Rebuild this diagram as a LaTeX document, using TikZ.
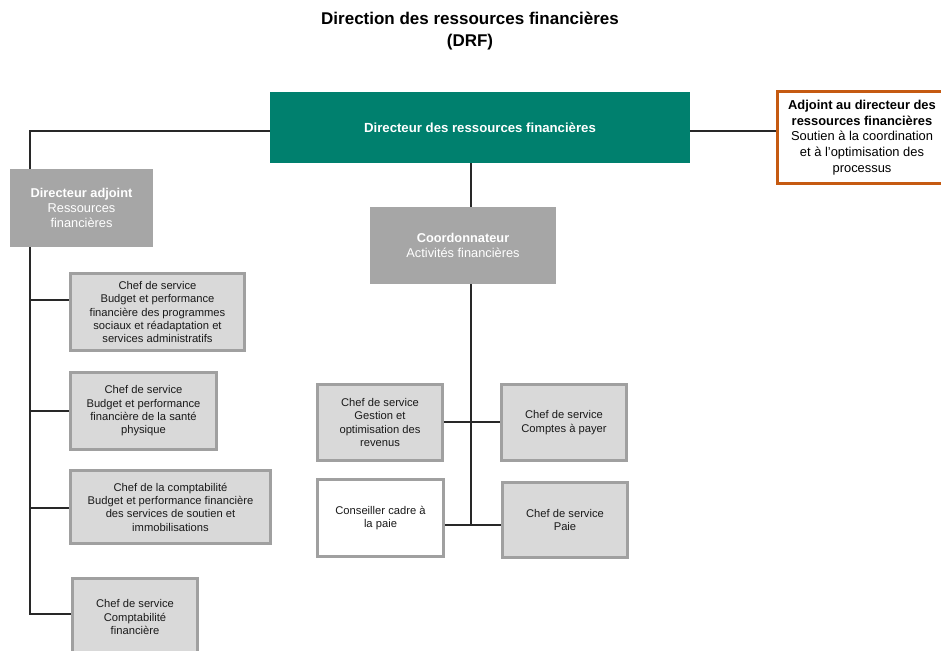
\documentclass[tikz,border=0pt]{standalone}
\usepackage{fontspec}
\setmainfont{Liberation Sans}
\definecolor{drfteal}{RGB}{0,128,110}
\definecolor{headgray}{RGB}{166,166,166}
\definecolor{unitfill}{RGB}{217,217,217}
\definecolor{unitedge}{RGB}{160,160,160}
\definecolor{staffedge}{RGB}{197,90,17}
\definecolor{linkc}{RGB}{40,40,40}
\definecolor{inkc}{RGB}{26,26,26}
\begin{document}
\begin{tikzpicture}[x=1pt,y=-1pt,
  link/.style={draw=linkc, line width=1.3pt},
  topbox/.style={fill=drfteal, text=white, inner sep=0pt, align=center,
    font=\bfseries\fontsize{13.2}{16}\selectfont},
  headbox/.style={fill=headgray, text=white, inner sep=0pt, align=center,
    font=\fontsize{12.8}{15}\selectfont},
  staffbox/.style={draw=staffedge, line width=3pt, fill=white, text=black,
    inner sep=0pt, align=center, font=\fontsize{12.9}{15.7}\selectfont},
  unitbox/.style={draw=unitedge, line width=2.6pt, fill=unitfill, text=inkc,
    inner sep=0pt, align=center, font=\fontsize{11.2}{13.3}\selectfont},
  advbox/.style={unitbox, fill=white},
  titletext/.style={inner sep=0pt, align=center, text=black,
    font=\bfseries\fontsize{17}{22}\selectfont}
]
\useasboundingbox (0,0) rectangle (941,650);
\clip (0,0) rectangle (941,650);

% title
\node[titletext] (title) at (470,31) {Direction des ressources financières\\(DRF)};

% director and staff
\node[topbox, minimum width=420pt, minimum height=71pt] (dir) at (480,127.5)
  {Directeur des ressources financières};
\node[staffbox, minimum width=170pt, minimum height=92pt] (staff) at (862,137.5)
  {\textbf{Adjoint au directeur des}\\\textbf{ressources financières}\\Soutien à la coordination\\et à l'optimisation des\\processus};

% deputy director branch
\node[headbox, minimum width=143pt, minimum height=78pt] (adj) at (81.5,208)
  {\textbf{Directeur adjoint}\\Ressources\\financières};
\node[unitbox, minimum width=174pt, minimum height=77pt] (b1) at (157.5,312)
  {Chef de service\\Budget et performance\\financière des programmes\\sociaux et réadaptation et\\services administratifs};
\node[unitbox, minimum width=146pt, minimum height=77pt] (b2) at (143.5,411)
  {Chef de service\\Budget et performance\\financière de la santé\\physique};
\node[unitbox, minimum width=200pt, minimum height=73pt] (b3) at (170.5,507)
  {Chef de la comptabilité\\Budget et performance financière\\des services de soutien et\\immobilisations};
\node[unitbox, minimum width=125pt, minimum height=77pt] (b4) at (135,617)
  {Chef de service\\Comptabilité\\financière};

% coordinator branch
\node[headbox, minimum width=186pt, minimum height=77pt] (coord) at (463,245.5)
  {\textbf{Coordonnateur}\\Activités financières};
\node[unitbox, minimum width=125pt, minimum height=76pt] (gest) at (380,422.5)
  {Chef de service\\Gestion et\\optimisation des\\revenus};
\node[unitbox, minimum width=125pt, minimum height=76pt] (cpt) at (564,422.5)
  {Chef de service\\Comptes à payer};
\node[advbox, minimum width=126pt, minimum height=77pt] (cons) at (380.5,518)
  {Conseiller cadre à\\la paie};
\node[unitbox, minimum width=125pt, minimum height=75pt] (paie) at (565,520)
  {Chef de service\\Paie};

% connector junctions
\coordinate (tTop) at (30,131);
\coordinate (tBot) at (30,614);
\coordinate (k1) at (30,300);
\coordinate (k2) at (30,411);
\coordinate (k3) at (30,508);
\coordinate (cTop) at (471,131);
\coordinate (jA) at (471,422);
\coordinate (jB) at (471,525);

% connectors
\draw[link] (dir.west |- tTop) -- (tTop) -- (adj.north -| tTop);
\draw[link] (dir.east |- tTop) -- (staff.west |- tTop);
\draw[link] (adj.south -| tTop) -- (tBot) -- (tBot -| b4.west);
\draw[link] (k1) -- (k1 -| b1.west);
\draw[link] (k2) -- (k2 -| b2.west);
\draw[link] (k3) -- (k3 -| b3.west);
\draw[link] (dir.south -| cTop) -- (coord.north -| cTop);
\draw[link] (coord.south -| cTop) -- (jB);
\draw[link] (gest.east |- jA) -- (cpt.west |- jA);
\draw[link] (cons.east |- jB) -- (paie.west |- jB);
\end{tikzpicture}
\end{document}
